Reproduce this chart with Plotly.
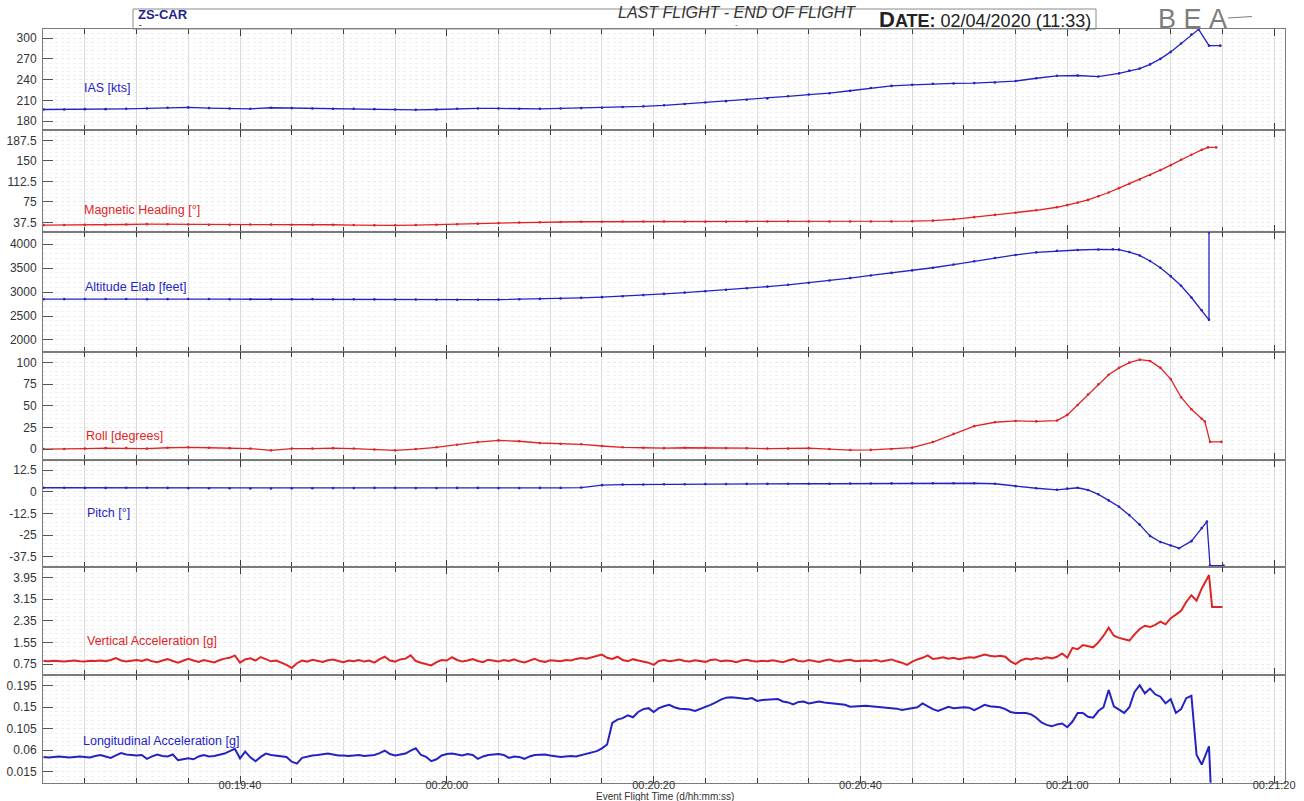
import datetime as dt
import plotly.graph_objects as go

W, H = 1304, 801
FONT = "Liberation Sans, Arial, sans-serif"
BLUE = "#2323c4"
RED = "#e02424"

# ---------------- data (time in seconds of day, flight time) ----------------
base_t = list(range(1161, 1240, 2))  # 00:19:21 ... 00:20:39, every 2 s

ias_base = [197, 197, 197.5, 197.5, 198, 198.5, 199.5, 200, 199, 198.5,
            198, 199.5, 199, 198.5, 198, 198, 197.5, 197, 196.5, 197,
            198, 198.5, 198.5, 198, 198, 198.5, 199, 199.5, 200.5, 201.5,
            203, 205, 207, 209, 211, 213, 216, 218.5, 220.5, 224]
ias_tail_t = [1241, 1243, 1245, 1247, 1249, 1251, 1253, 1255, 1257, 1259, 1261, 1263,
              1265, 1266, 1267, 1268, 1269, 1270, 1271, 1272, 1272.7, 1273.7, 1274.8]
ias_tail = [228, 231, 232.5, 234, 234.5, 235, 236, 238, 242, 245.5, 246, 244.5,
            249, 253, 256, 262, 270, 280, 292, 305, 312.5, 289, 289]

hdg_base = [32.5, 32.5, 33, 33, 33.5, 34, 34, 33.5, 33, 33,
            33.5, 33.5, 33, 33, 33, 32.5, 32, 32, 32.5, 33,
            34, 35, 36, 37, 37.5, 38, 38.5, 38.5, 39, 39,
            39, 38.5, 38.5, 38.5, 39, 39, 39.5, 39, 39, 39]
hdg_tail_t = [1241, 1243, 1245, 1247, 1249, 1251, 1253, 1255, 1257, 1259, 1260, 1261, 1262,
              1263, 1264, 1265, 1266, 1267, 1268, 1269, 1270, 1271, 1272, 1273, 1273.6, 1274.4]
hdg_tail = [39, 39, 39.5, 40.5, 43, 47, 51, 55, 59.5, 65, 69, 73.5, 78.5,
            85, 92, 100, 108, 116, 124, 133, 142, 152, 161, 170, 174.5, 174.5]

alt_base = [2850, 2852, 2855, 2855, 2853, 2850, 2852, 2855, 2853, 2850,
            2848, 2848, 2850, 2852, 2850, 2848, 2847, 2845, 2843, 2840,
            2838, 2840, 2842, 2848, 2856, 2866, 2878, 2893, 2912, 2935,
            2960, 2987, 3015, 3045, 3077, 3112, 3150, 3192, 3240, 3290]
alt_tail_t = [1241, 1243, 1245, 1247, 1249, 1251, 1253, 1255, 1257, 1259, 1261, 1263, 1264.4,
              1265, 1266, 1267, 1268, 1269, 1270, 1271, 1272, 1273, 1273.7, 1273.7]
alt_tail = [3345, 3398, 3450, 3505, 3572, 3640, 3710, 3772, 3825, 3857, 3875, 3887, 3890,
            3882, 3832, 3762, 3645, 3505, 3330, 3130, 2885, 2620, 2420, 4240]

roll_base = [0, 0, 0.5, 1, 1, 0.5, 1.5, 2, 1.5, 1,
             0.5, -1.5, 0.5, 0.5, 1, 0.5, -0.5, -1.5, 0, 2,
             5, 8, 10, 9, 7, 6, 5.5, 3.5, 2, 1.5,
             1, 1.5, 1.5, 1, 1, 0.5, 0.5, 1, 0, -1.2]
roll_tail_t = [1241, 1243, 1245, 1247, 1249, 1251, 1253, 1255, 1257, 1259, 1260, 1261, 1262,
               1263, 1264, 1265, 1266, 1267, 1268, 1269, 1270, 1271, 1272, 1273, 1273.3,
               1273.8, 1274.9]
roll_tail = [-1, 0, 1.6, 8, 17.5, 26.5, 31, 32.5, 32, 33, 39.5, 51, 63,
             75, 86, 94, 100, 103.5, 102, 94, 81, 60, 46, 35, 31.8, 8.3, 8.3]

pitch_base = [2.3, 2.3, 2.2, 2.2, 2.3, 2.3, 2.2, 2.1, 2.0, 2.0,
              1.9, 1.9, 2.0, 2.0, 2.1, 2.1, 2.2, 2.2, 2.1, 2.1,
              2.2, 2.2, 2.1, 2.1, 2.2, 2.2, 2.4, 3.8, 4.1, 4.2,
              4.3, 4.3, 4.4, 4.4, 4.5, 4.5, 4.6, 4.6, 4.6, 4.7]
pitch_tail_t = [1241, 1243, 1245, 1247, 1249, 1251, 1253, 1255, 1257, 1259, 1260, 1261, 1262,
                1263, 1264, 1265, 1266, 1267, 1268, 1269, 1270, 1270.8, 1272, 1273, 1273.5,
                1273.8, 1275.1]
pitch_tail = [4.7, 4.8, 4.9, 4.9, 4.9, 4.9, 4.6, 3.2, 2.0, 1.1, 1.8, 2.3, 1.0,
              -1.5, -5, -8.7, -13.5, -19, -25.5, -29, -31, -32.6, -28.5, -21, -17.2,
              -42.6, -42.6]

acc_t0 = 1161.0
acc_step = 0.5
va_vals = [0.86, 0.85, 0.87, 0.86, 0.84, 0.86, 0.88, 0.85, 0.84, 0.87, 0.86, 0.88, 0.85, 0.90, 0.97, 0.88, 0.84, 0.87, 0.90, 0.86,
           0.92, 0.85, 0.82, 0.88, 0.93, 0.86, 0.80, 0.87, 0.94, 0.88, 0.83, 0.90, 0.86, 0.81, 0.89, 0.95, 0.98, 1.07, 0.80, 0.92,
           0.96, 0.88, 1.01, 0.93, 0.85, 0.88, 0.80, 0.72, 0.60, 0.78, 0.88, 0.84, 0.91, 0.87, 0.83, 0.89, 0.92, 0.86, 0.82, 0.88,
           0.85, 0.90, 0.84, 0.88, 0.80, 0.93, 1.02, 0.88, 0.84, 0.92, 0.95, 1.07, 0.86, 0.80, 0.75, 0.70, 0.82, 0.90, 0.88, 1.00,
           0.90, 0.84, 0.88, 0.93, 0.86, 0.82, 0.91, 0.87, 0.84, 0.90, 0.86, 0.92, 0.85, 0.81, 0.88, 0.94, 0.86, 0.83, 0.89, 0.87,
           0.85, 0.90, 0.88, 0.94, 0.97, 0.95, 1.00, 1.03, 1.10, 0.98, 0.94, 1.02, 0.90, 0.85, 0.93, 0.88, 0.83, 0.80, 0.72, 0.86,
           0.90, 0.85, 0.88, 0.92, 0.86, 0.84, 0.89, 0.87, 0.83, 0.90, 0.92, 0.85, 0.88, 0.86, 0.82, 0.88, 0.91, 0.86, 0.84, 0.87,
           0.85, 0.89, 0.86, 0.82, 0.88, 0.93, 0.86, 0.84, 0.90, 0.87, 0.83, 0.88, 0.92, 0.86, 0.84, 0.89, 0.91, 0.85, 0.87, 0.88,
           0.86, 0.90, 0.84, 0.88, 0.92, 0.85, 0.80, 0.72, 0.84, 0.92, 0.98, 1.07, 0.94, 0.96, 1.00, 0.95, 0.98, 0.93, 0.97, 1.00,
           0.98, 1.04, 1.10, 1.06, 1.03, 1.06, 1.02, 0.85, 0.75, 0.88, 0.95, 0.92, 0.97, 0.94, 1.00, 0.96, 1.02, 1.14, 0.98, 1.35,
           1.30, 1.45, 1.40, 1.37, 1.55, 1.80, 2.10, 1.80, 1.72, 1.68, 1.62, 1.85, 2.05, 2.17, 2.12, 2.20, 2.32, 2.22, 2.45, 2.58,
           2.72, 3.05, 3.30, 3.10, 3.55, 3.90]
va_tail_t = [1273.7, 1274.0, 1275.0]
va_tail = [4.05, 2.86, 2.86]

la_vals = [0.046, 0.045, 0.046, 0.047, 0.046, 0.045, 0.046, 0.047, 0.046, 0.045, 0.048, 0.050, 0.047, 0.044, 0.049, 0.054, 0.051, 0.050, 0.049, 0.050,
           0.042, 0.047, 0.051, 0.048, 0.047, 0.051, 0.039, 0.041, 0.043, 0.041, 0.047, 0.050, 0.047, 0.048, 0.050, 0.053, 0.058, 0.063, 0.043, 0.057,
           0.045, 0.037, 0.046, 0.053, 0.050, 0.049, 0.047, 0.046, 0.036, 0.032, 0.044, 0.047, 0.049, 0.050, 0.051, 0.053, 0.051, 0.049, 0.049, 0.048,
           0.049, 0.050, 0.048, 0.049, 0.050, 0.054, 0.059, 0.052, 0.049, 0.051, 0.053, 0.059, 0.064, 0.050, 0.046, 0.037, 0.041, 0.049, 0.052, 0.053,
           0.051, 0.049, 0.052, 0.050, 0.042, 0.047, 0.050, 0.051, 0.052, 0.050, 0.044, 0.047, 0.046, 0.042, 0.047, 0.050, 0.050, 0.051, 0.049, 0.047,
           0.046, 0.047, 0.048, 0.047, 0.050, 0.052, 0.055, 0.058, 0.064, 0.072, 0.117, 0.124, 0.127, 0.133, 0.129, 0.140, 0.146, 0.148, 0.140, 0.148,
           0.152, 0.155, 0.150, 0.147, 0.146, 0.145, 0.142, 0.146, 0.151, 0.155, 0.160, 0.166, 0.170, 0.171, 0.170, 0.168, 0.167, 0.169, 0.163, 0.165,
           0.166, 0.166, 0.167, 0.162, 0.160, 0.156, 0.161, 0.162, 0.158, 0.160, 0.162, 0.160, 0.159, 0.158, 0.157, 0.155, 0.151, 0.152, 0.153, 0.153,
           0.152, 0.151, 0.150, 0.150, 0.149, 0.147, 0.144, 0.146, 0.148, 0.150, 0.158, 0.152, 0.146, 0.142, 0.147, 0.151, 0.148, 0.149, 0.150, 0.149,
           0.144, 0.149, 0.155, 0.152, 0.151, 0.150, 0.146, 0.140, 0.138, 0.138, 0.138, 0.135, 0.128, 0.118, 0.113, 0.110, 0.114, 0.116, 0.108, 0.120,
           0.138, 0.138, 0.130, 0.128, 0.142, 0.150, 0.186, 0.152, 0.145, 0.138, 0.150, 0.182, 0.196, 0.179, 0.189, 0.177, 0.172, 0.158, 0.167, 0.138,
           0.146, 0.169, 0.174, 0.050, 0.030, 0.058]
la_tail_t = [1273.7, 1273.9]
la_tail = [0.068, -0.03]

# axis ticks
ias_ticks = [180, 210, 240, 270, 300]
hdg_ticks = [37.5, 75, 112.5, 150, 187.5]
alt_ticks = [2000, 2500, 3000, 3500, 4000]
roll_ticks = [0, 25, 50, 75, 100]
pitch_ticks = [-37.5, -25, -12.5, 0, 12.5]
va_ticks = [0.75, 1.55, 2.35, 3.15, 3.95]
la_ticks = [0.015, 0.06, 0.105, 0.15, 0.195]

labels = ["IAS [kts]", "Magnetic Heading [°]", "Altitude Elab [feet]", "Roll [degrees]",
          "Pitch [°]", "Vertical Acceleration [g]", "Longitudinal Acceleration [g]"]

x_range_s = [1160.95, 1281.05]
x_tick_step_s = 20
x_minor_step_s = 5

# ---------------- helpers ----------------
ORIGIN = dt.datetime(2020, 4, 2)


def tm(seconds):
    return [ORIGIN + dt.timedelta(seconds=s) for s in seconds]


def px(x):
    return x / W


def py(y):
    return 1 - y / H


acc_t = [acc_t0 + acc_step * i for i in range(len(va_vals))]
acc_t_la = [acc_t0 + acc_step * i for i in range(len(la_vals))]

series = [
    (base_t + ias_tail_t, ias_base + ias_tail, BLUE, True),
    (base_t + hdg_tail_t, hdg_base + hdg_tail, RED, True),
    (base_t + alt_tail_t, alt_base + alt_tail, BLUE, True),
    (base_t + roll_tail_t, roll_base + roll_tail, RED, True),
    (base_t + pitch_tail_t, pitch_base + pitch_tail, BLUE, True),
    (acc_t + va_tail_t, va_vals + va_tail, RED, False),
    (acc_t_la + la_tail_t, la_vals + la_tail, BLUE, False),
]

tick_sets = [ias_ticks, hdg_ticks, alt_ticks, roll_ticks, pitch_ticks, va_ticks, la_ticks]
y_ranges = [[167, 313], [19.2, 205.8], [1756, 4244], [-12.7, 112.7],
            [-43.6, 18.3], [0.343, 4.335], [-0.008, 0.2174]]
# panel borders in pixels (top of chart area to bottom)
borders = [29, 130.3, 232.3, 351.7, 460, 567.3, 675, 782.7]
label_y = [88, 210.5, 286.5, 436, 513, 640.5, 740.5]
label_x = [82, 82, 83, 84, 85, 85, 81]

fig = go.Figure()
for i, (t, v, col, mk) in enumerate(series):
    n = "" if i == 0 else str(i + 1)
    fig.add_trace(go.Scatter(
        x=tm(t), y=v, mode="lines+markers" if mk else "lines",
        line=dict(color=col, width=1.3 if mk else 2.0),
        marker=dict(size=2.6, color=col) if mk else None,
        xaxis="x" + n, yaxis="y" + n, showlegend=False, hoverinfo="skip"))

layout = dict(
    width=W, height=H, margin=dict(l=0, r=0, t=0, b=0),
    paper_bgcolor="white", plot_bgcolor="white",
    font=dict(family=FONT, size=12, color="#333333"),
    showlegend=False,
)

ann = []
for i in range(7):
    n = "" if i == 0 else str(i + 1)
    dom_y = [py(borders[i + 1]), py(borders[i])]
    step = tick_sets[i][1] - tick_sets[i][0]
    layout["xaxis" + n] = dict(
        domain=[px(43), px(1285)], anchor="y" + n, type="date",
        range=tm(x_range_s), tick0=ORIGIN, dtick=x_tick_step_s * 1000,
        tickformat="%H:%M:%S", ticks="inside", ticklen=7, tickwidth=1.3,
        tickcolor="#3c3c3c", showline=True, linecolor="#7a7a7a", linewidth=1,
        mirror="ticks", showgrid=True, gridcolor="#dadada", gridwidth=1,
        zeroline=False, automargin=False, ticklabelstandoff=-8,
        showticklabels=(i == 6), tickfont=dict(size=11, color="#333333"),
        minor=dict(tick0=ORIGIN, dtick=x_minor_step_s * 1000, ticks="inside",
                   ticklen=5, tickwidth=1.1, tickcolor="#3c3c3c",
                   showgrid=True, gridcolor="#dadada", gridwidth=1),
    )
    layout["yaxis" + n] = dict(
        domain=dom_y, anchor="x" + n, range=y_ranges[i],
        tickmode="array", tickvals=tick_sets[i],
        ticktext=[("%g" % tv) for tv in tick_sets[i]],
        ticks="inside", ticklen=10, tickwidth=1.1, tickcolor="#555555",
        showline=True, linecolor="#7a7a7a", linewidth=1, mirror=True,
        showgrid=True, gridcolor="#e9e9e9", gridwidth=1, griddash="dot",
        zeroline=False, automargin=False, ticklabelstandoff=3,
        tickfont=dict(size=12, color="#333333"),
        minor=dict(tickmode="linear", tick0=tick_sets[i][0], dtick=step / 5,
                   showgrid=True, gridcolor="#efefef", gridwidth=1, griddash="dot"),
    )
    ann.append(dict(x=px(label_x[i]), y=py(label_y[i]), xref="paper", yref="paper",
                    text=labels[i], showarrow=False, xanchor="left", yanchor="middle",
                    font=dict(size=12.5, color=series[i][2], family=FONT)))

# header
ann += [
    dict(x=px(136), y=py(14), text="<b>ZS-CAR</b>", xref="paper", yref="paper", showarrow=False,
         xanchor="left", yanchor="middle", font=dict(size=13, color="#1f1f8f", family=FONT)),
    dict(x=px(137), y=py(24.5), text="<b>-</b>", xref="paper", yref="paper", showarrow=False,
         xanchor="left", yanchor="middle", font=dict(size=8, color="#1f1f8f", family=FONT)),
    dict(x=px(737), y=py(12.5), text="<i>LAST FLIGHT - END OF FLIGHT</i>", xref="paper", yref="paper",
         showarrow=False, xanchor="center", yanchor="middle", font=dict(size=16, color="#333333", family=FONT)),
    dict(x=px(736), y=py(25), text="-", xref="paper", yref="paper", showarrow=False,
         xanchor="center", yanchor="middle", font=dict(size=8, color="#555555", family=FONT)),
    dict(x=px(1093), y=py(19.5), xref="paper", yref="paper", showarrow=False,
         text="<b><span style='font-size:22px'>D</span>ATE:</b> 02/04/2020 (11:33)",
         xanchor="right", yanchor="middle", font=dict(size=18, color="#222222", family=FONT)),
    dict(x=px(1192), y=py(19), text="B&nbsp;E&nbsp;A", xref="paper", yref="paper", showarrow=False,
         xanchor="center", yanchor="middle", font=dict(size=27, color="#7d7d7d", family=FONT)),
    dict(x=px(665), y=py(796.5), text="Event Flight Time (d/hh:mm:ss)", xref="paper", yref="paper",
         showarrow=False, xanchor="center", yanchor="middle", font=dict(size=10, color="#333333", family=FONT)),
]
layout["annotations"] = ann
layout["shapes"] = [
    dict(type="rect", xref="paper", yref="paper", x0=px(133), x1=px(1096), y0=py(29), y1=py(9),
         line=dict(color="#8a8a8a", width=1), fillcolor="rgba(0,0,0,0)", layer="above"),
    dict(type="line", xref="paper", yref="paper", x0=px(1228), x1=px(1252), y0=py(18), y1=py(16.5),
         line=dict(color="#7d7d7d", width=1.2)),
]

fig.update_layout(**layout)
fig.write_html("out.html", config={"displayModeBar": False},
               post_script="document.body.style.margin='0px';document.body.style.padding='0px';")
